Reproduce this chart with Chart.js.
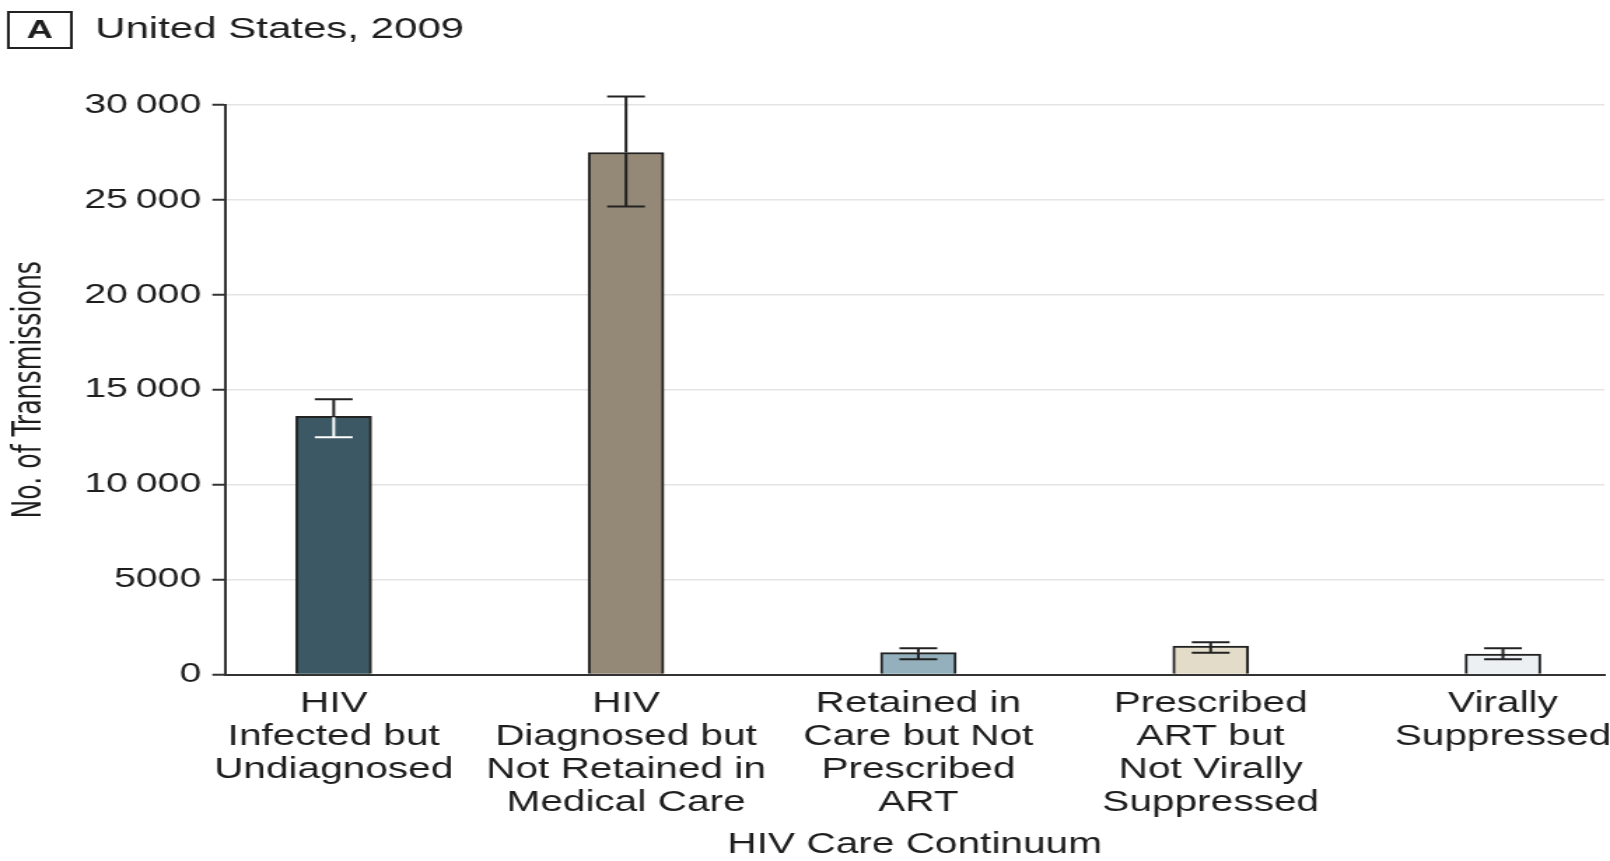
<!DOCTYPE html>
<html>
<head>
<meta charset="utf-8">
<script src="https://cdn.jsdelivr.net/npm/chart.js@4.4.1/dist/chart.umd.min.js"></script>
<style>
  body { margin: 0; background: #fff; }
  #myChart { display: block; }
</style>
</head>
<body>
<!-- the reference is stretched sideways, so the canvas is drawn narrow and widened by its inline style -->
<canvas id="myChart" width="1150" height="861" style="width:1610px;height:861px"></canvas>
<script>
const panelLetter = 'A'
const panelTitle = 'United States, 2009'

const categories = [
    ['HIV', 'Infected but', 'Undiagnosed'],
    ['HIV', 'Diagnosed but', 'Not Retained in', 'Medical Care'],
    ['Retained in', 'Care but Not', 'Prescribed', 'ART'],
    ['Prescribed', 'ART but', 'Not Virally', 'Suppressed'],
    ['Virally', 'Suppressed']
]

// No. of transmissions and the error bar ends
const transmissions = [13600, 27500, 1150, 1500, 1080]
const errLow = [12500, 24650, 800, 1150, 800]
const errHigh = [14500, 30450, 1380, 1700, 1380]

const yTicks = [0, 5000, 10000, 15000, 20000, 25000, 30000]

const barColors = ['#3b5864', '#948876', '#93b0bc', '#e3dcc8', '#edf0f3']
// whisker colour where it runs inside the bar
const innerWhisker = ['#ffffff', '#222222', '#222222', '#222222', '#222222']

const textColor = '#1e1e1e'
const fontFamily = '"Liberation Sans", Arial, sans-serif'
const narrowFamily = '"Liberation Sans Narrow", "Arial Narrow", "DejaVu Sans Condensed", sans-serif'

// Draws the boxed panel letter and the title
const headerPlugin = {
    id: 'header',
    afterDraw(chart) {
        const ctx = chart.ctx
        ctx.save()
        ctx.strokeStyle = '#222'
        ctx.lineWidth = 2
        ctx.strokeRect(6, 12, 45, 36)
        ctx.fillStyle = textColor
        ctx.textBaseline = 'middle'
        ctx.textAlign = 'center'
        ctx.font = 'bold 26px ' + fontFamily
        ctx.fillText(panelLetter, 28.5, 31)
        ctx.textAlign = 'left'
        ctx.font = '30px ' + fontFamily
        ctx.fillText(panelTitle, 68, 30)
        ctx.restore()
    }
}

// Error bars drawn from the arrays above
const errorBarPlugin = {
    id: 'errorBars',
    afterDatasetsDraw(chart) {
        const ctx = chart.ctx
        const xs = chart.scales.x
        const ys = chart.scales.y
        const cap = 13.5
        ctx.save()
        ctx.lineWidth = 2
        for (let i = 0; i < transmissions.length; i++) {
            const x = xs.getPixelForValue(i)
            const top = ys.getPixelForValue(errHigh[i])
            const bar = ys.getPixelForValue(transmissions[i])
            const low = ys.getPixelForValue(errLow[i])

            ctx.strokeStyle = '#222'
            ctx.beginPath()
            ctx.moveTo(x, top); ctx.lineTo(x, bar)
            ctx.moveTo(x - cap, top); ctx.lineTo(x + cap, top)
            ctx.stroke()

            ctx.strokeStyle = innerWhisker[i]
            ctx.beginPath()
            ctx.moveTo(x, bar + 1); ctx.lineTo(x, low)
            ctx.moveTo(x - cap, low); ctx.lineTo(x + cap, low)
            ctx.stroke()
        }
        ctx.restore()
    }
}

let ctx = document.getElementById('myChart')

let myChart = new Chart(ctx, {
    type: 'bar',
    data: {
        datasets: [{
            label: 'No. of Transmissions',
            data: transmissions.map((v, i) => ({ x: i, y: v })),
            backgroundColor: barColors,
            borderColor: '#222',
            borderWidth: 2,
            barThickness: 54
        }]
    },
    options: {
        responsive: false,
        animation: false,
        devicePixelRatio: 1,
        layout: { padding: { top: 105, left: 0, right: 4, bottom: 0 } },
        plugins: {
            legend: { display: false },
            tooltip: { enabled: false }
        },
        scales: {
            x: {
                type: 'linear',
                offset: false,
                min: -0.372,
                max: 4.347,
                // keep the plot right edge where the reference has it
                afterFit: (scale) => {
                    scale.height = 186.5
                    scale.paddingLeft = 0
                    scale.paddingRight = 0
                },
                afterBuildTicks: (scale) => {
                    scale.ticks = categories.map((c, i) => ({ value: i }))
                },
                ticks: {
                    color: textColor,
                    padding: 13,
                    maxRotation: 0,
                    autoSkip: false,
                    font: { family: fontFamily, size: 29, lineHeight: '33px' },
                    callback: (value) => categories[value]
                },
                grid: { display: false, drawTicks: false },
                border: { display: true, color: '#333', width: 2 },
                title: {
                    display: true,
                    text: 'HIV Care Continuum',
                    color: textColor,
                    padding: { top: 0, bottom: 0 },
                    font: { family: fontFamily, size: 29, lineHeight: '33px' }
                }
            },
            y: {
                min: 0,
                max: 30000,
                afterFit: (scale) => { scale.width = 160.7 },
                afterBuildTicks: (scale) => {
                    scale.ticks = yTicks.map(v => ({ value: v }))
                },
                ticks: {
                    color: textColor,
                    padding: 8,
                    font: { family: fontFamily, size: 28 },
                    callback: (v) => v >= 10000 ? String(v).slice(0, -3) + '\u2009' + String(v).slice(-3) : String(v)
                },
                grid: { color: '#e4e4e4', lineWidth: 1.5, tickColor: '#333', tickLength: 9, tickWidth: 2 },
                border: { display: true, color: '#333', width: 2 },
                title: {
                    display: true,
                    text: 'No. of Transmissions',
                    color: textColor,
                    padding: { top: 6, bottom: 0 },
                    font: { family: narrowFamily, size: 28, lineHeight: 1.1 }
                }
            }
        }
    },
    plugins: [headerPlugin, errorBarPlugin]
});
</script>
</body>
</html>
